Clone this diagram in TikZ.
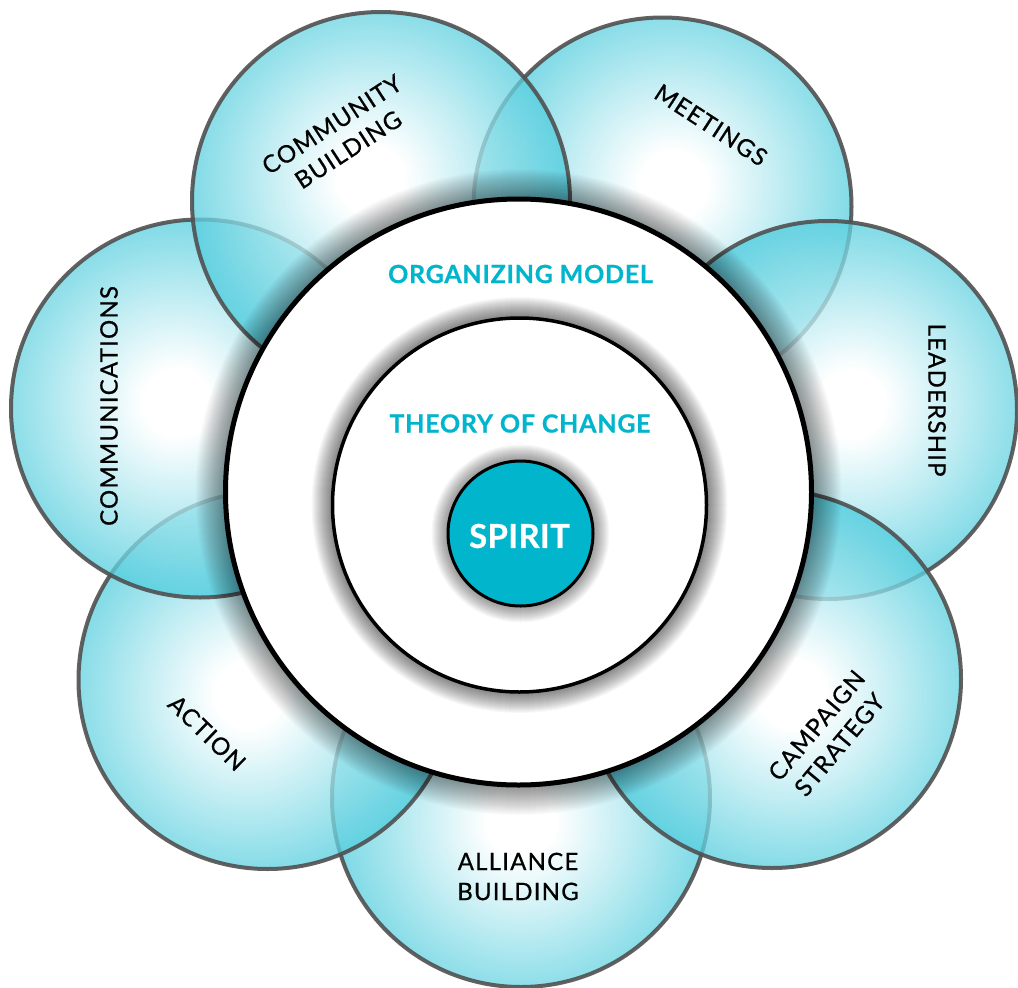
\documentclass[tikz,border=0pt]{standalone}
\usepackage{fontspec}
\setmainfont{Lato}
\usetikzlibrary{calc}
\definecolor{petalteal}{RGB}{55,197,216}
\definecolor{spiritteal}{RGB}{0,181,204}
\definecolor{rimgray}{RGB}{80,80,80}
\pgfdeclareradialshading{petalshade}{\pgfpoint{0bp}{0bp}}{color(0bp)=(white); color(4bp)=(white); color(25bp)=(petalteal); color(50bp)=(petalteal)}
\tikzset{
  petalrim/.style={draw=rimgray, line width=4pt, draw opacity=0.9},
  petalfill/.style={shading=petalshade, fill opacity=0.77},
  petallabel/.style={font=\fontsize{24}{30}\selectfont\addfontfeature{LetterSpace=5,FakeBold=0.7}, text=black, align=center, inner sep=0pt},
  corelabel/.style={font=\fontsize{25}{30}\selectfont\bfseries\addfontfeature{LetterSpace=3,FakeBold=0.6}, text=spiritteal, inner sep=0pt},
  spiritlabel/.style={font=\fontsize{33}{36}\selectfont\bfseries\addfontfeature{LetterSpace=1,FakeBold=0.6}, text=white, inner sep=0pt},
}
\newcommand\petaldisc[1]{%
  \begin{scope}
    \clip (#1) circle (189);
    \shade[petalfill] ($(#1)!-24pt!(big)$) circle (212);
  \end{scope}
  \draw[petalrim] (#1) circle (189);
}
\newcommand\softshadow[4]{% center, radius, steps, opacity
  \foreach \d in {1,...,#3} \fill[black, fill opacity=#4] (#1) circle ({#2+\d});
}
\begin{document}
\begin{tikzpicture}[x=1pt,y=-1pt]
\useasboundingbox (0,0) rectangle (1018,988);
% centres
\coordinate (big) at (518.5,492);
\coordinate (toc) at (519.5,505);
\coordinate (spc) at (520.5,533.5);
\coordinate (cb) at (381,201);
\coordinate (me) at (662.5,206.5);
\coordinate (le) at (828,410);
\coordinate (cs) at (772,679);
\coordinate (ab) at (521,798);
\coordinate (ac) at (267.5,680);
\coordinate (co) at (200,408.5);
% petals (bottom to top)
\petaldisc{ab}
\petaldisc{ac}
\petaldisc{co}
\petaldisc{me}
\petaldisc{le}
\petaldisc{cs}
\petaldisc{cb}
% organizing model disc
\softshadow{big}{295}{28}{0.017}
\draw[line width=5pt, fill=white] (big) circle (293);
% theory of change disc
\softshadow{toc}{188}{20}{0.026}
\draw[line width=3.5pt, fill=white] (toc) circle (187);
% spirit disc
\softshadow{spc}{73}{16}{0.026}
\draw[line width=3pt, fill=spiritteal] (spc) circle (72.5);
% labels
\node[corelabel] (om) at (520.5,274) {ORGANIZING MODEL};
\node[corelabel] (tc) at (520,423.5) {THEORY OF CHANGE};
\node[spiritlabel] (sp) at (519.5,536) {SPIRIT};
\node[petallabel, rotate=33] (lcb) at (340,137) {COMMUNITY\\BUILDING};
\node[petallabel, rotate=-33] (lme) at (711,125) {MEETINGS};
\node[petallabel, rotate=-90] (lle) at (937,400) {LEADERSHIP};
\node[petallabel, rotate=50] (lcs) at (828,735) {CAMPAIGN\\STRATEGY};
\node[petallabel] (lab) at (518,876.5) {ALLIANCE\\BUILDING};
\node[petallabel, rotate=-44] (lac) at (207,733) {ACTION};
\node[petallabel, rotate=90] (lco) at (109,406) {COMMUNICATIONS};
\end{tikzpicture}
\end{document}
